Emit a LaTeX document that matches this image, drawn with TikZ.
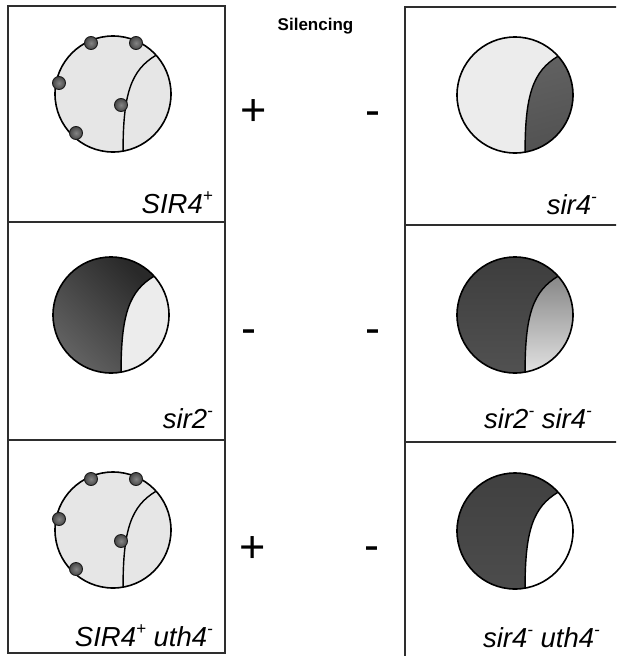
\documentclass[tikz,border=0pt]{standalone}
\usepackage{fontspec}
\setmainfont{Liberation Sans}
\definecolor{pale}{HTML}{E6E6E6}
\definecolor{paler}{HTML}{ECECEC}
\newcommand\hi[1]{\raisebox{0.42em}{\fontsize{17}{17}\selectfont #1}}
% one nucleus: centre, options for the left lobe, options for the right lobe
\newcommand\nucleus[4]{%
  \begin{scope}[shift={(#1,#2)}]
    \path[#3] (43.1,-38.8) .. controls (18,-24) and (10,0) .. (10.07,57.1)
      arc[start angle=80, end angle=318, radius=58] -- cycle;
    \path[#4] (43.1,-38.8) .. controls (18,-24) and (10,0) .. (10.07,57.1)
      arc[start angle=80, end angle=-42, radius=58] -- cycle;
    \draw[seam] (43.1,-38.8) .. controls (18,-24) and (10,0) .. (10.07,57.1);
    \draw[rim] (0,0) circle[radius=58];
  \end{scope}}
% the five telomere foci of a wild-type nucleus
\newcommand\foci[2]{%
  \begin{scope}[shift={(#1,#2)}]
    \foreach \fx/\fy in {-22/-51, 23/-51, -54/-11, 8/11, -37/39}
      \path[dot] (\fx,\fy) circle[radius=6.5];
  \end{scope}}
\begin{document}
\begin{tikzpicture}[x=1pt, y=-1pt,
  frame/.style={draw=black!82, line width=1.8pt},
  rim/.style={draw=black, line width=1.6pt},
  seam/.style={draw=black, line width=1.4pt},
  dot/.style={inner color=black!48, outer color=black!72, draw=black!90, line width=0.9pt},
  genotype/.style={font=\fontsize{27.5}{27.5}\selectfont\itshape, anchor=base east, inner sep=0pt},
  sign/.style={font=\fontsize{45}{45}\selectfont, anchor=base, inner sep=0pt},
  heading/.style={font=\fontsize{17}{17}\selectfont\bfseries, anchor=base, inner sep=0pt}]
  \fill[white] (0,0) rectangle (616,656);
  \clip (0,0) rectangle (616,656);

  % panel frames
  \draw[frame] (8,6) rectangle (225,653);
  \draw[frame] (8,222) -- (225,222);
  \draw[frame] (8,440) -- (225,440);
  \draw[frame] (620,7) -- (405,7) -- (405,660);
  \draw[frame] (405,225) -- (620,225);
  \draw[frame] (405,442) -- (620,442);

  % row 1
  \nucleus{113}{94}{fill=pale}{fill=pale}
  \foci{113}{94}
  \nucleus{515}{95}{fill=paler}{shade, top color=black!62, middle color=black!90, bottom color=black!68, shading angle=15}
  % row 2
  \nucleus{111}{315}{shade, top color=black!84, middle color=black!80, bottom color=black!60, shading angle=-45}{fill=paler}
  \nucleus{515}{315}{shade, top color=black!76, bottom color=black!68}{shade, top color=black!47, bottom color=black!12}
  % row 3
  \nucleus{113}{530}{fill=pale}{fill=pale}
  \foci{113}{530}
  \nucleus{515}{531}{shade, top color=black!75, bottom color=black!70}{fill=white}

  % labels
  \node[heading] (title) at (315.5,30) {Silencing};
  \node[sign] (p1) at (254,125) {+};
  \node[sign] (m1) at (373,125) {-};
  \node[sign] (m2a) at (249,343) {-};
  \node[sign] (m2b) at (373,343) {-};
  \node[sign] (p3) at (253,562) {+};
  \node[sign] (m3) at (372,560) {-};

  \node[genotype] (g1) at (213,213) {SIR4\hi{+}};
  \node[genotype] (g2) at (597,214) {sir4\hi{-}};
  \node[genotype] (g3) at (213,428) {sir2\hi{-}};
  \node[genotype] (g4) at (592,428) {sir2\hi{-} sir4\hi{-}};
  \node[genotype] (g5) at (213,646) {SIR4\hi{+} uth4\hi{-}};
  \node[genotype] (g6) at (600,647) {sir4\hi{-} uth4\hi{-}};
\end{tikzpicture}
\end{document}
